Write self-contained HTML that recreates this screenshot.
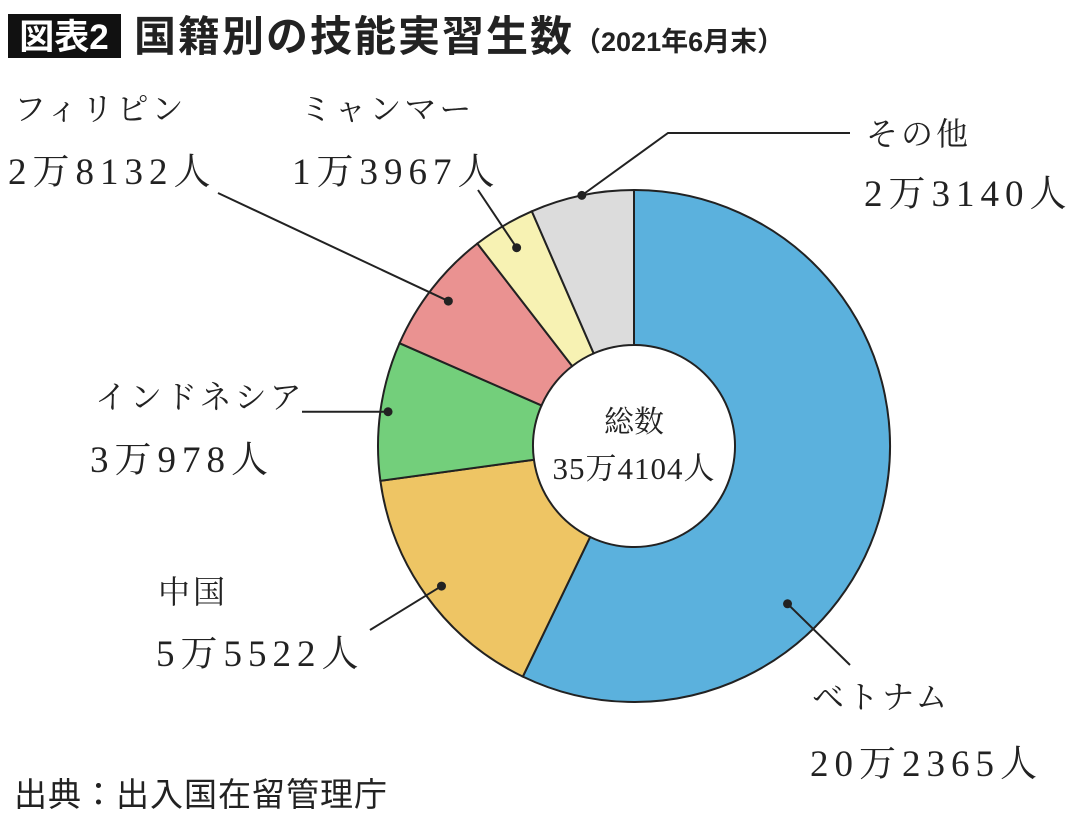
<!DOCTYPE html>
<html><head><meta charset="utf-8">
<style>
body{margin:0;background:#fff;}
svg text{font-family:"Liberation Serif","Noto Serif CJK SC",serif;fill:#222;}
.t{font-family:"Liberation Sans","Noto Sans CJK JP",sans-serif;font-weight:bold;}
</style></head>
<body>
<svg id="c" width="1080" height="819" viewBox="0 0 1080 819">
<rect x="8" y="14" width="113" height="44" fill="#111"/>
<text x="64" y="49" text-anchor="middle" class="t" style="fill:#fff;font-size:35px">図表2</text>
<text x="134" y="51" class="t" style="font-size:42px;letter-spacing:2px">国籍別の技能実習生数<tspan style="font-size:27px;letter-spacing:0">（2021年6月末）</tspan></text>
<g id="slices"></g>
<g id="labels"></g>
<text x="634" y="432" text-anchor="middle" style="font-size:30px">総数</text>
<text x="634" y="479" text-anchor="middle" style="font-size:31px;letter-spacing:1px">35万4104人</text>
<text x="14" y="806" style="font-size:33px;letter-spacing:1px;font-family:'Liberation Sans','Noto Sans CJK JP',sans-serif">出典：出入国在留管理庁</text>
</svg>
<script>
const categories=["ベトナム","中国","インドネシア","フィリピン","ミャンマー","その他"];
const values=[202365,55522,30978,28132,13967,23140];
const valueLabels=["20万2365人","5万5522人","3万978人","2万8132人","1万3967人","2万3140人"];
const colors=["#5bb1dd","#eec564","#73cf7b","#ea9291","#f7f2b3","#dcdcdc"];
const cx=634,cy=446,R=256,r=101;
const NS="http://www.w3.org/2000/svg";
const total=values.reduce((a,b)=>a+b,0);
function pt(a,rad){return [cx+rad*Math.sin(a),cy-rad*Math.cos(a)];}
let a0=0;const starts=[],ends=[];
const g=document.getElementById('slices');
values.forEach((v,i)=>{
  const a1=a0+v/total*2*Math.PI;
  const large=(a1-a0)>Math.PI?1:0;
  const [x0,y0]=pt(a0,R),[x1,y1]=pt(a1,R),[x2,y2]=pt(a1,r),[x3,y3]=pt(a0,r);
  const p=document.createElementNS(NS,'path');
  p.setAttribute('d',`M${x0},${y0}A${R},${R} 0 ${large} 1 ${x1},${y1}L${x2},${y2}A${r},${r} 0 ${large} 0 ${x3},${y3}Z`);
  p.setAttribute('fill',colors[i]);p.setAttribute('stroke','#222');p.setAttribute('stroke-width','2');
  
  
  g.appendChild(p);
  starts.push(a0);ends.push(a1);a0=a1;
});
// [name x, name y, value x, value y, line end x, line end y (null = same as dot), dot radius factor, position within slice]
const lay=[
 [812,708,810,776,850,665,0.86,0.66],
 [158,603,156,666,370,630,0.93,0.5],
 [95,408,90,472,302,null,0.97,0.5],
 [14,120,8,184,218,193,0.92,0.5],
 [300,120,292,184,478,190,0.9,0.5],
 [866,145,864,206,668,133,1.0,0.5]
];
const L=document.getElementById('labels');
lay.forEach((l,i)=>{
  const ang=starts[i]+(ends[i]-starts[i])*l[7];
  const d=pt(ang,R*l[6]);
  const ey=l[5]===null?d[1]:l[5];
  const ln=document.createElementNS(NS,'polyline');
  let pts=`${d[0]},${d[1]} ${l[4]},${ey}`;
  if(i===5) pts+=` 850,133`;
  ln.setAttribute('points',pts);ln.setAttribute('fill','none');ln.setAttribute('stroke','#222');ln.setAttribute('stroke-width','2');
  
  
  L.appendChild(ln);
  const c=document.createElementNS(NS,'circle');
  c.setAttribute('cx',d[0]);c.setAttribute('cy',d[1]);c.setAttribute('r',4.5);c.setAttribute('fill','#222');
  
  
  L.appendChild(c);
  const t=document.createElementNS(NS,'text');
  t.setAttribute('x',l[0]);t.setAttribute('y',l[1]);t.setAttribute('font-size','32');t.setAttribute('letter-spacing','3');
  t.textContent=categories[i];
  
  
  L.appendChild(t);
  const t2=document.createElementNS(NS,'text');
  t2.setAttribute('x',l[2]);t2.setAttribute('y',l[3]);t2.setAttribute('font-size','37');t2.setAttribute('letter-spacing','6');
  t2.textContent=valueLabels[i];
  
  
  L.appendChild(t2);
});
</script>
</body></html>
